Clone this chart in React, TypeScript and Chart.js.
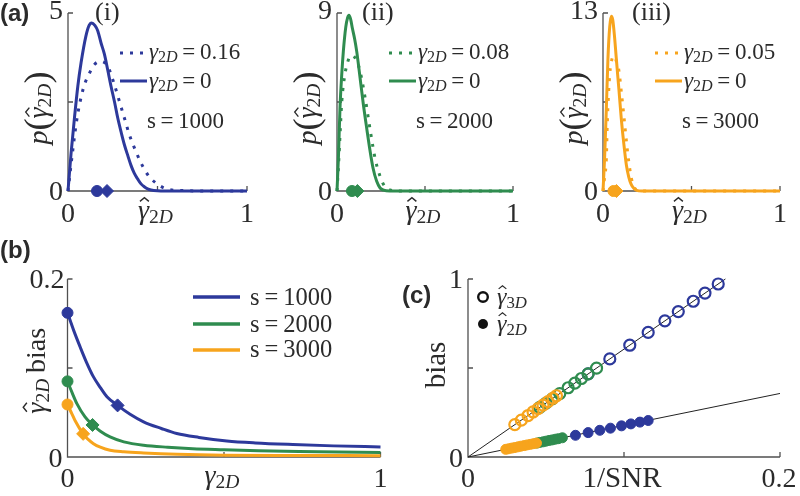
import React, { useEffect, useRef } from 'react';
import { Chart, registerables } from 'chart.js';
Chart.register(...registerables);

// ---------- colours / fonts ----------
const BLUE = '#2d399b';
const GREEN = '#2f8c4f';
const ORANGE = '#f7a41d';
const AXIS = '#505050';
const INK = '#2b2b2b';
const SERIF = "'Liberation Serif', 'Times New Roman', serif";
const SANS = "'Liberation Sans', Arial, sans-serif";

// ---------- data: (a)(i) s=1000 ----------
const A1_SOLID_X = [0, 0.017, 0.035, 0.055, 0.073, 0.1, 0.118, 0.132, 0.15, 0.166, 0.185, 0.203, 0.222, 0.24, 0.26, 0.278, 0.297, 0.315, 0.335, 0.352, 0.37, 0.389, 0.408, 0.426, 0.445, 0.464, 0.5, 0.6, 0.8, 1];
const A1_SOLID_Y = [0, 1.05, 2.0, 2.95, 3.6, 4.35, 4.65, 4.72, 4.65, 4.5, 4.15, 3.85, 3.4, 2.95, 2.5, 2.05, 1.65, 1.3, 0.98, 0.72, 0.5, 0.34, 0.2, 0.12, 0.06, 0.03, 0.01, 0, 0, 0];
const A1_DOT_X = [0, 0.017, 0.045, 0.064, 0.089, 0.12, 0.147, 0.184, 0.222, 0.259, 0.287, 0.315, 0.343, 0.371, 0.408, 0.445, 0.492, 0.557, 0.65, 0.8, 1];
const A1_DOT_Y = [0, 0.74, 1.86, 2.42, 2.94, 3.31, 3.55, 3.64, 3.5, 2.99, 2.52, 2.05, 1.58, 1.21, 0.79, 0.46, 0.22, 0.05, 0.01, 0, 0];

// ---------- data: (a)(ii) s=2000 ----------
const A2_SOLID_X = [0, 0.008, 0.017, 0.027, 0.036, 0.05, 0.06, 0.068, 0.077, 0.088, 0.1, 0.112, 0.13, 0.15, 0.17, 0.188, 0.205, 0.225, 0.245, 0.265, 0.3, 0.5, 1];
const A2_SOLID_Y = [0, 1.67, 4.2, 5.9, 7.06, 8.3, 8.75, 8.88, 8.7, 8.2, 7.7, 7.06, 5.8, 4.36, 3.1, 2.02, 1.15, 0.5, 0.15, 0.04, 0, 0, 0];
const A2_DOT_X = [0, 0.008, 0.017, 0.027, 0.045, 0.06, 0.074, 0.09, 0.11, 0.13, 0.16, 0.19, 0.216, 0.244, 0.27, 0.3, 0.35, 0.5, 1];
const A2_DOT_Y = [0, 1.2, 2.8, 4.5, 5.9, 6.5, 6.8, 6.85, 6.6, 6.1, 4.7, 3.0, 1.67, 0.76, 0.25, 0.05, 0, 0, 0];

// ---------- data: (a)(iii) s=3000 ----------
const A3_SOLID_X = [0, 0.009, 0.019, 0.028, 0.038, 0.047, 0.055, 0.065, 0.075, 0.09, 0.103, 0.118, 0.132, 0.146, 0.16, 0.175, 0.19, 0.22, 0.5, 1];
const A3_SOLID_Y = [0, 2.4, 6.06, 9.7, 12.0, 12.76, 12.5, 11.3, 9.7, 7.4, 5.33, 3.4, 1.9, 1.0, 0.46, 0.18, 0.05, 0, 0, 0];
const A3_DOT_X = [0, 0.009, 0.019, 0.024, 0.038, 0.05, 0.062, 0.075, 0.089, 0.103, 0.119, 0.132, 0.145, 0.16, 0.18, 0.2, 0.25, 0.5, 1];
const A3_DOT_Y = [0, 1.0, 2.4, 4.84, 8.5, 9.6, 9.86, 9.5, 8.86, 7.3, 5.33, 3.65, 2.2, 0.95, 0.2, 0.03, 0, 0, 0];

// mean estimate markers in (a): circle (gamma=0), diamond (gamma=value)
const A_MEAN_ZERO = [0.162, 0.085, 0.059];
const A_MEAN_GAMMA = [0.218, 0.116, 0.076];
const A_YMAX = [5, 9, 13];
const A_GAMMA_LABELS = ['0.16', '0.08', '0.05'];
const S_LABELS = ['1000', '2000', '3000'];
const A_ROMAN = ['(i)', '(ii)', '(iii)'];

// ---------- data: (b) bias vs gamma ----------
const B1_X = [0, 0.02, 0.04, 0.06, 0.083, 0.105, 0.126, 0.16, 0.2, 0.243, 0.3, 0.349, 0.42, 0.509, 0.6, 0.72, 0.85, 1];
const B1_Y = [0.162, 0.142, 0.124, 0.107, 0.09, 0.078, 0.0677, 0.058, 0.048, 0.0395, 0.032, 0.0264, 0.022, 0.018, 0.0158, 0.014, 0.0125, 0.0113];
const B2_X = [0, 0.015, 0.03, 0.056, 0.08, 0.105, 0.136, 0.18, 0.243, 0.32, 0.4, 0.5, 0.61, 0.8, 1];
const B2_Y = [0.085, 0.072, 0.06, 0.045, 0.036, 0.029, 0.0225, 0.017, 0.0132, 0.011, 0.0094, 0.0082, 0.007, 0.006, 0.005];
const B3_X = [0, 0.012, 0.024, 0.05, 0.065, 0.083, 0.105, 0.136, 0.18, 0.243, 0.35, 0.5, 0.75, 1];
const B3_Y = [0.059, 0.05, 0.041, 0.026, 0.02, 0.015, 0.011, 0.0075, 0.0058, 0.0045, 0.003, 0.002, 0.0017, 0.0015];
const B_DIAM_X = [0.16, 0.08, 0.05];
const B_DIAM_Y = [0.058, 0.036, 0.026];

// ---------- data: (c) bias vs 1/SNR ----------
const C_LINE3D_X = [0, 0.165];
const C_LINE3D_Y = [0, 1.0];
const C_LINE2D_X = [0, 0.2];
const C_LINE2D_Y = [0, 0.357];
const C_BLUE3D_X = [0.077, 0.0909, 0.1037, 0.1155, 0.1262, 0.1348, 0.1444, 0.1519, 0.1604];
const C_BLUE3D_Y = [0.467, 0.551, 0.628, 0.7, 0.765, 0.817, 0.875, 0.921, 0.972];
const C_BLUE2D_X = [0.0689, 0.077, 0.0845, 0.0913, 0.0984, 0.1044, 0.1102, 0.1155];
const C_BLUE2D_Y = [0.122, 0.137, 0.15, 0.162, 0.175, 0.186, 0.196, 0.205];
const C_GREEN3D_X = [0.046, 0.05, 0.054, 0.0588, 0.0642, 0.0685, 0.0727, 0.077, 0.0824];
const C_GREEN3D_Y = [0.279, 0.303, 0.327, 0.356, 0.389, 0.415, 0.441, 0.467, 0.499];
const C_GREEN2D_X = [0.044, 0.046, 0.048, 0.05, 0.052, 0.054, 0.056, 0.058, 0.0605];
const C_GREEN2D_Y = [0.078, 0.082, 0.085, 0.089, 0.093, 0.096, 0.1, 0.103, 0.108];
const C_ORANGE3D_X = [0.03, 0.0342, 0.0385, 0.0417, 0.0449, 0.0481, 0.0513, 0.0545, 0.0567];
const C_ORANGE3D_Y = [0.182, 0.207, 0.233, 0.253, 0.272, 0.291, 0.311, 0.33, 0.344];
const C_ORANGE2D_X = [0.0242, 0.026, 0.028, 0.03, 0.032, 0.034, 0.036, 0.038, 0.04, 0.042, 0.0439];
const C_ORANGE2D_Y = [0.043, 0.046, 0.05, 0.053, 0.057, 0.061, 0.064, 0.068, 0.071, 0.075, 0.078];

// ---------- helpers ----------
const pts = (xs: number[], ys: number[]) => xs.map((x, i) => ({ x, y: ys[i] }));

function curve(xs: number[], ys: number[], color: string, width = 3, dash: number[] = []) {
  return {
    data: pts(xs, ys), showLine: true, borderColor: color, backgroundColor: color,
    borderWidth: width, borderDash: dash, pointRadius: 0, cubicInterpolationMode: 'monotone',
    clip: false, borderCapStyle: 'butt',
  };
}
function marks(xs: number[], ys: number[], color: string, style: string, r: number, fill = true, bw = 1) {
  return {
    data: pts(xs, ys), showLine: false, pointStyle: style, pointRadius: r,
    pointBorderWidth: bw, pointBorderColor: color,
    pointBackgroundColor: fill ? color : 'rgba(0,0,0,0)', clip: false,
  };
}

type Seg = { t: string; i?: boolean; sub?: boolean; hat?: boolean; pad?: number; k?: number };
const segSize = (s: Seg, size: number) => Math.round(size * (s.sub ? 0.7 : 1) * (s.k || 1) * 10) / 10;
const segFont = (s: Seg, size: number) => `${s.i ? 'italic ' : ''}${segSize(s, size)}px ${SERIF}`;

function measure(ctx: CanvasRenderingContext2D, segs: Seg[], size: number) {
  let w = 0;
  for (const s of segs) {
    ctx.font = segFont(s, size);
    w += ctx.measureText(s.t).width + 2 * (s.pad || 0) * size;
  }
  return w;
}
function rich(ctx: CanvasRenderingContext2D, segs: Seg[], x: number, y: number, size: number, align: string, color = INK) {
  const total = measure(ctx, segs, size);
  let cx = align === 'left' ? x : align === 'center' ? x - total / 2 : x - total;
  ctx.fillStyle = color; ctx.strokeStyle = color;
  ctx.textAlign = 'left'; ctx.textBaseline = 'alphabetic';
  for (const s of segs) {
    ctx.font = segFont(s, size);
    const w = ctx.measureText(s.t).width;
    const px = cx + (s.pad || 0) * size;
    const py = y + (s.sub ? size * 0.15 : 0) + (s.k && s.k > 1 ? size * (s.k - 1) * 0.265 : 0);
    ctx.fillText(s.t, px, py);
    if (s.hat) {
      const hx = px + w * 0.58, ty = py - size * 0.76, hw = size * 0.16, hh = size * 0.13;
      ctx.beginPath(); ctx.lineWidth = Math.max(1, size * 0.05);
      ctx.moveTo(hx - hw, ty + hh); ctx.lineTo(hx, ty); ctx.lineTo(hx + hw, ty + hh); ctx.stroke();
    }
    cx += w + 2 * (s.pad || 0) * size;
  }
}
function rot(ctx: CanvasRenderingContext2D, segs: Seg[], x: number, y: number, size: number) {
  ctx.save(); ctx.translate(x, y); ctx.rotate(-Math.PI / 2);
  rich(ctx, segs, 0, 0, size, 'center');
  ctx.restore();
}
function txt(ctx: CanvasRenderingContext2D, s: string, x: number, y: number, size: number, align: CanvasTextAlign, font = SERIF, weight = '') {
  ctx.font = `${weight}${size}px ${font}`; ctx.fillStyle = INK;
  ctx.textAlign = align; ctx.textBaseline = 'alphabetic';
  ctx.fillText(s, x, y);
}

const G2D: Seg[] = [{ t: 'γ', i: true }, { t: '2', sub: true }, { t: 'D', i: true, sub: true }];
const G2D_HAT: Seg[] = [{ t: 'γ', i: true, hat: true }, { t: '2', sub: true }, { t: 'D', i: true, sub: true }];
const G3D_HAT: Seg[] = [{ t: 'γ', i: true, hat: true }, { t: '3', sub: true }, { t: 'D', i: true, sub: true }];
const P_TITLE: Seg[] = [{ t: 'p', i: true }, { t: '(', k: 1.3 }, ...G2D_HAT, { t: ')', k: 1.3 }];
const eq = (v: string): Seg[] => [{ t: '=', pad: 0.2 }, { t: v }];
const TICK = 28;

function frame(chart: any, xt: number[], yt: number[]) {
  const { ctx, chartArea: a } = chart;
  const xs = chart.scales.x, ys = chart.scales.y;
  ctx.save();
  ctx.strokeStyle = AXIS; ctx.lineWidth = 1.3; ctx.setLineDash([]);
  ctx.beginPath();
  ctx.moveTo(a.left, ys.getPixelForValue(ys.max));
  ctx.lineTo(a.left, a.bottom);
  ctx.lineTo(xs.getPixelForValue(xs.max), a.bottom);
  for (const v of xt) { const px = xs.getPixelForValue(v); ctx.moveTo(px, a.bottom); ctx.lineTo(px, a.bottom - 5); }
  for (const v of yt) { const py = ys.getPixelForValue(v); ctx.moveTo(a.left, py); ctx.lineTo(a.left + 5, py); }
  ctx.stroke();
  ctx.restore();
}

function baseOptions(padding: any, xmax: number, ymax: number) {
  return {
    responsive: false, animation: false, events: [],
    layout: { padding },
    plugins: { legend: { display: false }, tooltip: { enabled: false } },
    scales: {
      x: { type: 'linear', display: false, min: 0, max: xmax },
      y: { type: 'linear', display: false, min: 0, max: ymax },
    },
  };
}

// ---------- panel (a) ----------
const A_GEOM = [
  { left: 0, width: 265, areaL: 68, areaR: 247, romanX: 95 },
  { left: 265, width: 265, areaL: 337, areaR: 513, romanX: 362 },
  { left: 530, width: 270, areaL: 603, areaR: 780, romanX: 632 },
];
const A_DATA = [
  { sx: A1_SOLID_X, sy: A1_SOLID_Y, dx: A1_DOT_X, dy: A1_DOT_Y, color: BLUE },
  { sx: A2_SOLID_X, sy: A2_SOLID_Y, dx: A2_DOT_X, dy: A2_DOT_Y, color: GREEN },
  { sx: A3_SOLID_X, sy: A3_SOLID_Y, dx: A3_DOT_X, dy: A3_DOT_Y, color: ORANGE },
];
const A_TOP = 0, A_H = 235;

function buildA(k: number) {
  const g = A_GEOM[k], d = A_DATA[k], ymax = A_YMAX[k];
  const padding = { left: g.areaL - g.left, right: g.left + g.width - g.areaR, top: 13, bottom: A_H - 191 };
  return {
    type: 'scatter',
    data: {
      datasets: [
        marks([A_MEAN_ZERO[k]], [0], d.color, 'circle', 5.5),
        marks([A_MEAN_GAMMA[k]], [0], d.color, 'rectRot', 6.5),
        curve(d.sx, d.sy, d.color, 3),
        curve(d.dx, d.dy, d.color, 3, [3, 7]),
      ],
    },
    options: baseOptions(padding, 1, ymax),
    plugins: [{
      id: 'decoA',
      beforeDatasetsDraw(chart: any) { frame(chart, [0, 0.5, 1], [0, ymax / 2, ymax]); },
      afterDraw(chart: any) {
        const ctx = chart.ctx, xs = chart.scales.x, ys = chart.scales.y;
        ctx.save(); ctx.translate(-g.left, -A_TOP);
        const X = (v: number) => xs.getPixelForValue(v) + g.left;
        const Y = (v: number) => ys.getPixelForValue(v) + A_TOP;
        txt(ctx, String(ymax), g.areaL - 5, Y(ymax) + 6, TICK, 'right');
        txt(ctx, '0', g.areaL - 5, Y(0) + 9, TICK, 'right');
        txt(ctx, '0', X(0), 222, TICK, 'center');
        txt(ctx, '1', X(1), 222, TICK, 'center');
        rich(ctx, G2D_HAT, (X(0) + X(1)) / 2 - 2, 219, 28, 'center');
        rot(ctx, P_TITLE, g.areaL - 21, 108, 28);
        txt(ctx, A_ROMAN[k], g.romanX, 20, 26, 'left');
        if (k === 0) txt(ctx, '(a)', 0, 21, 24, 'left', SANS, 'bold ');
        // legend
        ctx.strokeStyle = d.color; ctx.lineWidth = 3; ctx.lineCap = 'butt';
        ctx.setLineDash([3, 7]);
        ctx.beginPath(); ctx.moveTo(g.areaL + 52, 53); ctx.lineTo(g.areaL + 80, 53); ctx.stroke();
        ctx.setLineDash([]);
        ctx.beginPath(); ctx.moveTo(g.areaL + 52, 81); ctx.lineTo(g.areaL + 79, 81); ctx.stroke();
        rich(ctx, [...G2D, ...eq(A_GAMMA_LABELS[k])], g.areaL + 81, 59, 23, 'left');
        rich(ctx, [...G2D, ...eq('0')], g.areaL + 81, 88, 23, 'left');
        rich(ctx, [{ t: 's' }, ...eq(S_LABELS[k])], g.areaL + 79, 128, 23, 'left');
        ctx.restore();
      },
    }],
  };
}

// ---------- panel (b) ----------
const B_LEFT = 0, B_TOP = 225, B_W = 400, B_H = 271;
function buildB() {
  const padding = { left: 67.5, right: 19.5, top: 54, bottom: 39 };
  const cols = [BLUE, GREEN, ORANGE];
  return {
    type: 'scatter',
    data: {
      datasets: [
        marks([0], [B1_Y[0]], BLUE, 'circle', 5.5),
        marks([0], [B2_Y[0]], GREEN, 'circle', 5.5),
        marks([0], [B3_Y[0]], ORANGE, 'circle', 5.5),
        marks([B_DIAM_X[0]], [B_DIAM_Y[0]], BLUE, 'rectRot', 6.5),
        marks([B_DIAM_X[1]], [B_DIAM_Y[1]], GREEN, 'rectRot', 6.5),
        marks([B_DIAM_X[2]], [B_DIAM_Y[2]], ORANGE, 'rectRot', 6.5),
        curve(B3_X, B3_Y, ORANGE, 3),
        curve(B2_X, B2_Y, GREEN, 3),
        curve(B1_X, B1_Y, BLUE, 3),
      ],
    },
    options: baseOptions(padding, 1, 0.2),
    plugins: [{
      id: 'decoB',
      beforeDatasetsDraw(chart: any) { frame(chart, [0, 0.5, 1], [0, 0.1, 0.2]); },
      afterDraw(chart: any) {
        const ctx = chart.ctx, xs = chart.scales.x, ys = chart.scales.y;
        ctx.save(); ctx.translate(-B_LEFT, -B_TOP);
        const X = (v: number) => xs.getPixelForValue(v) + B_LEFT;
        const Y = (v: number) => ys.getPixelForValue(v) + B_TOP;
        const L = X(0);
        txt(ctx, '0.2', L - 3, Y(0.2) + 9, TICK, 'right');
        txt(ctx, '0', L - 5, Y(0) + 10, TICK, 'right');
        txt(ctx, '0', X(0), 487, TICK, 'center');
        txt(ctx, '1', X(1), 487, TICK, 'center');
        rich(ctx, G2D, (X(0) + X(1)) / 2 - 2, 484, 28, 'center');
        rot(ctx, [...G2D_HAT, { t: 'bias', pad: 0.2 }], L - 23, 368, 28);
        txt(ctx, '(b)', 0, 258, 24, 'left', SANS, 'bold ');
        const ly = [297, 324, 350], tb = [305, 332, 357];
        for (let i = 0; i < 3; i++) {
          ctx.strokeStyle = cols[i]; ctx.lineWidth = 3.5; ctx.setLineDash([]);
          ctx.beginPath(); ctx.moveTo(193, ly[i]); ctx.lineTo(240, ly[i]); ctx.stroke();
          rich(ctx, [{ t: 's' }, ...eq(S_LABELS[i])], 250, tb[i], 24.5, 'left');
        }
        ctx.restore();
      },
    }],
  };
}

// ---------- panel (c) ----------
const C_LEFT = 400, C_TOP = 225, C_W = 400, C_H = 271;
function buildC() {
  const padding = { left: 68, right: 20, top: 54, bottom: 39 };
  const line = (xs: number[], ys: number[]) => ({ ...curve(xs, ys, '#222', 1), cubicInterpolationMode: 'default' });
  return {
    type: 'scatter',
    data: {
      datasets: [
        marks(C_ORANGE3D_X, C_ORANGE3D_Y, ORANGE, 'circle', 5.5, false, 2.2),
        marks(C_GREEN3D_X, C_GREEN3D_Y, GREEN, 'circle', 5.5, false, 2.2),
        marks(C_BLUE3D_X, C_BLUE3D_Y, BLUE, 'circle', 5.5, false, 2.2),
        marks(C_ORANGE2D_X, C_ORANGE2D_Y, ORANGE, 'circle', 5),
        marks(C_GREEN2D_X, C_GREEN2D_Y, GREEN, 'circle', 5),
        marks(C_BLUE2D_X, C_BLUE2D_Y, BLUE, 'circle', 5),
        line(C_LINE3D_X, C_LINE3D_Y),
        line(C_LINE2D_X, C_LINE2D_Y),
      ],
    },
    options: baseOptions(padding, 0.2, 1),
    plugins: [{
      id: 'decoC',
      beforeDatasetsDraw(chart: any) { frame(chart, [0, 0.1, 0.2], [0, 0.5, 1]); },
      afterDraw(chart: any) {
        const ctx = chart.ctx, xs = chart.scales.x, ys = chart.scales.y;
        ctx.save(); ctx.translate(-C_LEFT, -C_TOP);
        const X = (v: number) => xs.getPixelForValue(v) + C_LEFT;
        const Y = (v: number) => ys.getPixelForValue(v) + C_TOP;
        const L = X(0);
        txt(ctx, '1', L - 5, Y(1) + 9, TICK, 'right');
        txt(ctx, '0', L - 5, Y(0) + 10, TICK, 'right');
        txt(ctx, '0', X(0), 487, TICK, 'center');
        txt(ctx, '0.2', X(0.2) - 1, 487, TICK, 'center');
        txt(ctx, '1/SNR', (X(0) + X(0.2)) / 2 - 2, 487, 29, 'center');
        rot(ctx, [{ t: 'bias' }], L - 23, 365, 29);
        txt(ctx, '(c)', 402, 303, 24, 'left', SANS, 'bold ');
        // legend
        ctx.strokeStyle = '#111'; ctx.fillStyle = '#111'; ctx.lineWidth = 2.4; ctx.setLineDash([]);
        ctx.beginPath(); ctx.arc(483, 297, 4.8, 0, Math.PI * 2); ctx.stroke();
        ctx.beginPath(); ctx.arc(483, 324, 5, 0, Math.PI * 2); ctx.fill();
        rich(ctx, G3D_HAT, 497, 304, 24, 'left');
        rich(ctx, G2D_HAT, 497, 331, 24, 'left');
        ctx.restore();
      },
    }],
  };
}

function ChartCanvas({ left, top, width, height, build }: { left: number; top: number; width: number; height: number; build: () => any }) {
  const ref = useRef<HTMLCanvasElement>(null);
  useEffect(() => {
    const c = new Chart(ref.current as HTMLCanvasElement, build());
    return () => c.destroy();
  }, []);
  return <canvas ref={ref} width={width} height={height} style={{ position: 'absolute', left, top, width, height }} />;
}

export default function App() {
  return (
    <div style={{ position: 'absolute', left: 0, top: 0, width: 800, height: 496, background: '#fff', overflow: 'hidden' }}>
      {A_GEOM.map((g, k) => (
        <ChartCanvas key={k} left={g.left} top={A_TOP} width={g.width} height={A_H} build={() => buildA(k)} />
      ))}
      <ChartCanvas left={B_LEFT} top={B_TOP} width={B_W} height={B_H} build={buildB} />
      <ChartCanvas left={C_LEFT} top={C_TOP} width={C_W} height={C_H} build={buildC} />
    </div>
  );
}
